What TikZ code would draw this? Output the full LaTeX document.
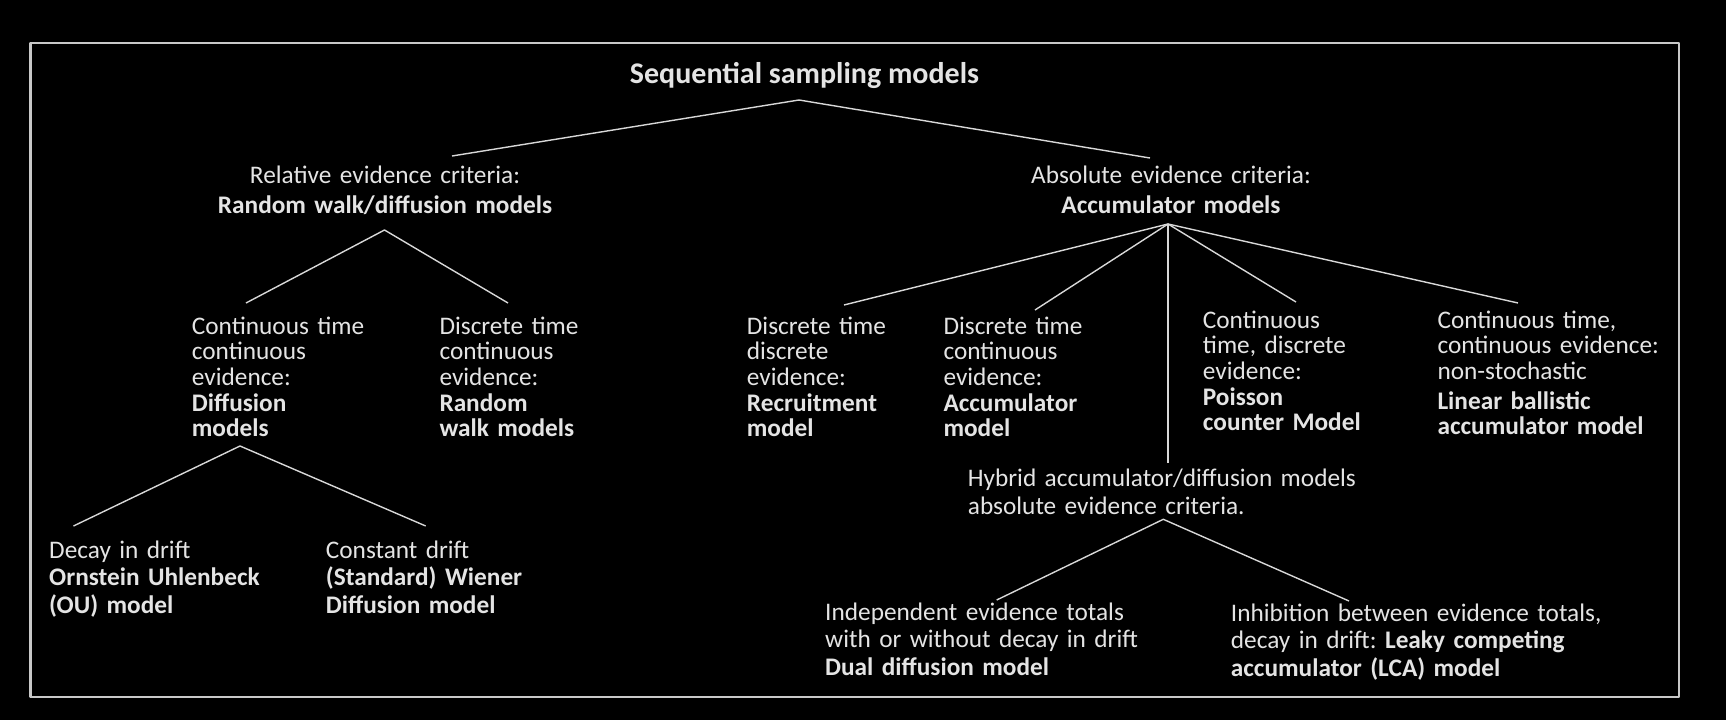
\documentclass[tikz,border=0pt]{standalone}
\usepackage{fontspec}
\setmainfont{Carlito}
\frenchspacing
\definecolor{inktext}{HTML}{E4E4E4}
\definecolor{inkline}{HTML}{D8D8D8}
\definecolor{inkframe}{HTML}{C8C8C8}
\newcommand{\boxfont}[1]{\fontsize{25.3}{#1}\selectfont\lineskiplimit=-20pt}

\begin{document}
\begin{tikzpicture}[x=1pt, y=-1pt, line join=round,
  every node/.style={inner sep=0pt, text=inktext, font=\boxfont{25.6}},
  top/.style={anchor=base, align=center, text width=420, font=\boxfont{30}},
  leaf/.style={anchor=base west, align=left, text width=#1},
  leaf/.default=230,
  low/.style={leaf=#1, font=\boxfont{27.5}},
  low/.default=380,
  branch/.style={draw=inkline, line width=1.4pt}]

  \fill[black] (0,0) rectangle (1726,720);
  \useasboundingbox (0,0) rectangle (1726,720);
  \draw[inkframe, line width=2.5pt] (30.5,43) rectangle (1679,697);

  % Nodes
  \node[anchor=base, font=\fontsize{30}{34}\selectfont\bfseries] (ssm) at (804.5,83) {Sequential sampling models};
  \node[top] (rel) at (385,183) {Relative evidence criteria:\\ \textbf{Random walk/diffusion models}};
  \node[top] (abs) at (1171,183) {Absolute evidence criteria:\\ \textbf{Accumulator models}};

  \node[leaf] (ct) at (191.7,334.3) {Continuous time\\ continuous\\ evidence:\\ \textbf{Diffusion}\\ \textbf{models}};
  \node[leaf] (dt) at (439.3,334.3) {Discrete time\\ continuous\\ evidence:\\ \textbf{Random}\\ \textbf{walk models}};
  \node[leaf] (ddr) at (746.7,334.3) {Discrete time\\ discrete\\ evidence:\\ \textbf{Recruitment}\\ \textbf{model}};
  \node[leaf] (dtc) at (943.3,334.3) {Discrete time\\ continuous\\ evidence:\\ \textbf{Accumulator}\\ \textbf{model}};
  \node[leaf] (pc) at (1202.7,328.3) {Continuous\\ time, discrete\\ evidence:\\ \textbf{Poisson}\\ \textbf{counter Model}};
  \node[leaf=260] (lba) at (1437.3,328.3) {Continuous time,\\ continuous evidence:\\ non-stochastic\\[4pt] \textbf{Linear ballistic}\\ \textbf{accumulator model}};

  \node[low=260] (ou) at (49,558) {Decay in drift\\ \textbf{Ornstein Uhlenbeck}\\ \textbf{(OU) model}};
  \node[low=260] (wd) at (325.7,558) {Constant drift\\ \textbf{(Standard) Wiener}\\ \textbf{Diffusion model}};
  \node[low=440] (hyb) at (967.7,486.7) {Hybrid accumulator/diffusion models\\ absolute evidence criteria.};
  \node[low] (dd) at (825,620) {Independent evidence totals\\ with or without decay in drift\\ \textbf{Dual diffusion model}};
  \node[low=430] (lca) at (1230.7,621) {Inhibition between evidence totals,\\ decay in drift: \textbf{Leaky competing}\\ \textbf{accumulator (LCA) model}};

  % Branches
  \draw[branch] ([shift={(67,-27)}]rel.base) -- ([shift={(-5.5,17)}]ssm.base) -- ([shift={(-21,-25)}]abs.base);
  \draw[branch] ([shift={(54.3,-31.3)}]ct.base west) -- ([shift={(-0.5,47)}]rel.base) -- ([shift={(68.7,-31.3)}]dt.base west);

  \draw[branch] ([shift={(-3,41)}]abs.base) -- ([shift={(97.3,-29.3)}]ddr.base west);
  \draw[branch] ([shift={(-3,41)}]abs.base) -- ([shift={(91.7,-24.3)}]dtc.base west);
  \draw[branch] ([shift={(-3,41)}]abs.base) -- ([shift={(200.3,-23.7)}]hyb.base west);
  \draw[branch] ([shift={(-3,41)}]abs.base) -- ([shift={(93.3,-26.3)}]pc.base west);
  \draw[branch] ([shift={(-3,41)}]abs.base) -- ([shift={(80.7,-25.3)}]lba.base west);

  \draw[branch] ([shift={(24.5,-32)}]ou.base west) -- ([shift={(48.3,111.7)}]ct.base west) -- ([shift={(100,-32)}]wd.base west);
  \draw[branch] ([shift={(171.7,-20)}]dd.base west) -- ([shift={(195.6,32.6)}]hyb.base west) -- ([shift={(118.3,-20)}]lca.base west);

\end{tikzpicture}
\end{document}
